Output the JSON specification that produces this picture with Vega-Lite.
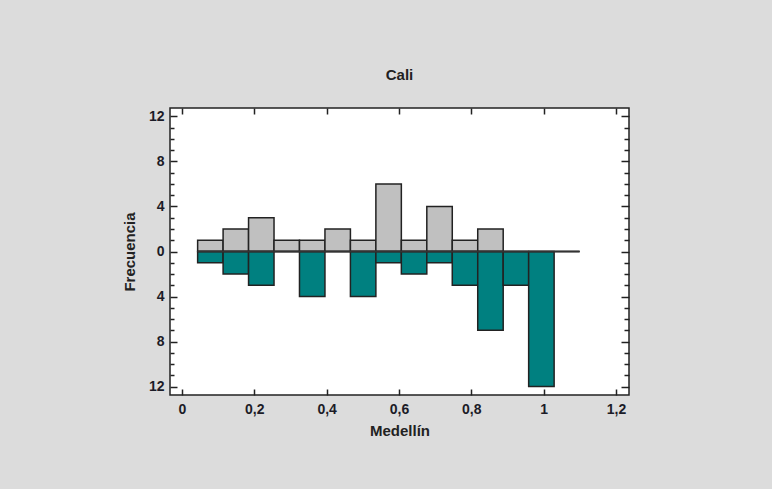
{
  "$schema": "https://vega.github.io/schema/vega-lite/v6.json",
  "autosize": {"type": "none"},
  "width": 459,
  "height": 287,
  "padding": {"left": 170, "top": 108, "right": 143, "bottom": 94},
  "background": "#dcdcdc",
  "title": {"text": "Cali", "anchor": "middle", "baseline": "alphabetic", "offset": 12, "fontSize": 15, "font": "Liberation Sans", "fontWeight": "bold", "color": "#222"},
  "config": {
    "view": {"stroke": "#222", "strokeWidth": 1.5, "fill": "white"},
    "axis": {"labelFont": "Liberation Sans", "labelFontSize": 14, "labelFontWeight": "bold", "labelColor": "#1c1c28", "titleFont": "Liberation Sans", "titleFontSize": 15, "titleFontWeight": "bold", "titleColor": "#222", "tickColor": "#222", "tickWidth": 1.5, "domain": false, "grid": false}
  },
  "datasets": {
    "hist": [
      {"desde": 0.0434, "hasta": 0.1138, "grupo": "Cali", "frecuencia": 1},
      {"desde": 0.1138, "hasta": 0.1842, "grupo": "Cali", "frecuencia": 2},
      {"desde": 0.1842, "hasta": 0.2546, "grupo": "Cali", "frecuencia": 3},
      {"desde": 0.2546, "hasta": 0.325, "grupo": "Cali", "frecuencia": 1},
      {"desde": 0.325, "hasta": 0.3954, "grupo": "Cali", "frecuencia": 1},
      {"desde": 0.3954, "hasta": 0.4658, "grupo": "Cali", "frecuencia": 2},
      {"desde": 0.4658, "hasta": 0.5362, "grupo": "Cali", "frecuencia": 1},
      {"desde": 0.5362, "hasta": 0.6066, "grupo": "Cali", "frecuencia": 6},
      {"desde": 0.6066, "hasta": 0.677, "grupo": "Cali", "frecuencia": 1},
      {"desde": 0.677, "hasta": 0.7474, "grupo": "Cali", "frecuencia": 4},
      {"desde": 0.7474, "hasta": 0.8178, "grupo": "Cali", "frecuencia": 1},
      {"desde": 0.8178, "hasta": 0.8882, "grupo": "Cali", "frecuencia": 2},
      {"desde": 0.0434, "hasta": 0.1138, "grupo": "Medellín", "frecuencia": -1},
      {"desde": 0.1138, "hasta": 0.1842, "grupo": "Medellín", "frecuencia": -2},
      {"desde": 0.1842, "hasta": 0.2546, "grupo": "Medellín", "frecuencia": -3},
      {"desde": 0.325, "hasta": 0.3954, "grupo": "Medellín", "frecuencia": -4},
      {"desde": 0.4658, "hasta": 0.5362, "grupo": "Medellín", "frecuencia": -4},
      {"desde": 0.5362, "hasta": 0.6066, "grupo": "Medellín", "frecuencia": -1},
      {"desde": 0.6066, "hasta": 0.677, "grupo": "Medellín", "frecuencia": -2},
      {"desde": 0.677, "hasta": 0.7474, "grupo": "Medellín", "frecuencia": -1},
      {"desde": 0.7474, "hasta": 0.8178, "grupo": "Medellín", "frecuencia": -3},
      {"desde": 0.8178, "hasta": 0.8882, "grupo": "Medellín", "frecuencia": -7},
      {"desde": 0.8882, "hasta": 0.9586, "grupo": "Medellín", "frecuencia": -3},
      {"desde": 0.9586, "hasta": 1.029, "grupo": "Medellín", "frecuencia": -12}
    ],
    "base": [{"desde": 0.0434, "hasta": 1.0994, "frecuencia": 0}]
  },
  "resolve": {"axis": {"x": "independent", "y": "independent"}},
  "layer": [
    {
      "data": {"name": "hist"},
      "mark": {"type": "bar", "stroke": "#222", "strokeWidth": 1.5},
      "encoding": {
        "x": {"field": "desde", "type": "quantitative", "scale": {"domain": [-0.033, 1.236], "nice": false, "zero": false},
              "axis": {"orient": "bottom", "title": "Medellín", "values": [0, 0.2, 0.4, 0.6, 0.8, 1, 1.2], "labelExpr": "replace(format(datum.value, '.1~f'), '.', ',')", "tickSize": -6, "labelPadding": 13, "titlePadding": 7}},
        "x2": {"field": "hasta"},
        "y": {"field": "frecuencia", "type": "quantitative", "scale": {"domain": [-12.75, 12.75], "nice": false},
              "axis": {"orient": "left", "title": "Frecuencia", "values": [-12, -8, -4, 0, 4, 8, 12], "labelExpr": "'' + abs(datum.value)", "tickSize": -7, "labelPadding": 13, "titlePadding": 11}},
        "y2": {"datum": 0},
        "color": {"field": "grupo", "type": "nominal", "scale": {"domain": ["Cali", "Medellín"], "range": ["#c0c0c0", "#008080"]}, "legend": null}
      }
    },
    {
      "data": {"name": "base"},
      "mark": {"type": "rule", "stroke": "#333", "strokeWidth": 1.5},
      "encoding": {
        "x": {"field": "desde", "type": "quantitative",
              "axis": {"orient": "top", "title": null, "values": [0, 0.2, 0.4, 0.6, 0.8, 1, 1.2], "labels": false, "tickSize": -6}},
        "x2": {"field": "hasta"},
        "y": {"field": "frecuencia", "type": "quantitative",
              "axis": {"orient": "right", "title": null, "values": [-12, -8, -4, 0, 4, 8, 12], "labels": false, "tickSize": -8}}
      }
    },
    {
      "data": {"name": "base"},
      "mark": {"type": "rule", "stroke": "#333", "strokeWidth": 1.5},
      "encoding": {
        "x": {"field": "desde", "type": "quantitative", "axis": null},
        "x2": {"field": "hasta"},
        "y": {"field": "frecuencia", "type": "quantitative",
              "axis": {"orient": "left", "title": null, "values": [-11, -10, -9, -7, -6, -5, -3, -2, -1, 1, 2, 3, 5, 6, 7, 9, 10, 11], "labels": false, "tickSize": -4}}
      }
    },
    {
      "data": {"name": "base"},
      "mark": {"type": "rule", "stroke": "#333", "strokeWidth": 1.5},
      "encoding": {
        "x": {"field": "desde", "type": "quantitative", "axis": null},
        "x2": {"field": "hasta"},
        "y": {"field": "frecuencia", "type": "quantitative",
              "axis": {"orient": "right", "title": null, "values": [-11, -10, -9, -7, -6, -5, -3, -2, -1, 1, 2, 3, 5, 6, 7, 9, 10, 11], "labels": false, "tickSize": -5}}
      }
    }
  ]
}
